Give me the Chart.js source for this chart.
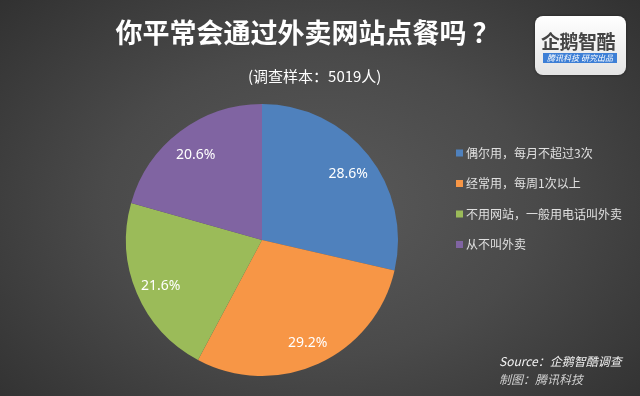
<!DOCTYPE html>
<html>
<head>
<meta charset="utf-8">
<script src="https://cdn.jsdelivr.net/npm/chart.js@4.4.1/dist/chart.umd.min.js"></script>
<style>
  html, body { margin: 0; padding: 0; }
  body {
    width: 640px; height: 396px; overflow: hidden; position: relative;
    background: radial-gradient(ellipse 75% 85% at 50% 52%, #5a5a5a 0%, #4a4a4a 45%, #2c2c2c 100%);
    font-family: "Noto Sans CJK SC", "Noto Sans", sans-serif;
  }
  #wrap { position: absolute; left: 0; top: 0; width: 640px; height: 396px; }
  .t { position: absolute; white-space: nowrap; }
  #title { left: 0; width: 615px; top: 14px; text-align: center; font-size: 27px; font-weight: bold; color: #fff; line-height: 36px; }
  #sub { left: 248px; top: 66px; font-size: 15px; color: #fff; line-height: 20px; }
  #logo { position: absolute; left: 535px; top: 16px; width: 91px; height: 59px; border-radius: 8px;
    background: linear-gradient(#ffffff, #e4e4e4); box-shadow: 0 0 3px rgba(0,0,0,0.4); }
  #logo .n { position: absolute; left: 6px; top: 14px; font-size: 19px; font-weight: bold; color: #444; letter-spacing: -0.5px; line-height: 22px; }
  #logo .b { position: absolute; left: 8px; top: 37px; width: 74px; height: 10px; background: #3d7fd6;
    color: #fff; font-size: 8px; line-height: 10px; font-style: italic; text-align: center; }
  #src1 { left: 499px; top: 353px; font-size: 12px; font-style: italic; color: #f0f0f0; line-height: 16px; }
  #src2 { left: 499px; top: 371px; font-size: 12px; font-style: italic; color: #cfcfcf; line-height: 16px; }
</style>
</head>
<body>
<div id="wrap"><canvas id="c" width="640" height="396"></canvas></div>
<div class="t" id="title">你平常会通过外卖网站点餐吗 ？</div>
<div class="t" id="sub">(调查样本：5019人)</div>
<div id="logo"><div class="n">企鹅智酷</div><div class="b">腾讯科技 研究出品</div></div>
<div class="t" id="src1">Source：企鹅智酷调查</div>
<div class="t" id="src2">制图：腾讯科技</div>
<script>
const categories = ["偶尔用，每月不超过3次", "经常用，每周1次以上", "不用网站，一般用电话叫外卖", "从不叫外卖"];
const values = [28.6, 29.2, 21.6, 20.6];
const colors = ["#4F81BD", "#F79646", "#9BBB59", "#8064A2"];

const labelPlugin = {
  id: 'labels',
  afterDatasetsDraw(chart) {
    const ctx = chart.ctx;
    const meta = chart.getDatasetMeta(0);
    ctx.save();
    ctx.font = '14px "Noto Sans", sans-serif';
    ctx.fillStyle = '#ffffff';
    ctx.textAlign = 'center';
    ctx.textBaseline = 'middle';
    meta.data.forEach((arc, i) => {
      const p = arc.getProps(['x', 'y', 'startAngle', 'endAngle', 'outerRadius'], true);
      const mid = (p.startAngle + p.endAngle) / 2;
      const r = p.outerRadius * 0.81;
      ctx.fillText(values[i].toFixed(1) + '%', p.x + Math.cos(mid) * r, p.y + Math.sin(mid) * r + 3);
    });
    ctx.restore();
  }
};

const legendPlugin = {
  id: 'customLegend',
  afterDraw(chart) {
    const ctx = chart.ctx;
    ctx.save();
    ctx.font = '12px "Noto Sans CJK SC", sans-serif';
    ctx.textBaseline = 'middle';
    categories.forEach((c, i) => {
      const y = 153 + i * 30.5;
      ctx.fillStyle = colors[i];
      ctx.fillRect(456, y - 3.5, 7, 7);
      ctx.fillStyle = '#e0e0e0';
      ctx.fillText(c, 466, y);
    });
    ctx.restore();
  }
};

new Chart(document.getElementById('c'), {
  type: 'pie',
  data: {
    labels: categories,
    datasets: [{ data: values, backgroundColor: colors, borderWidth: 0 }]
  },
  options: {
    responsive: false,
    animation: false,
    layout: { padding: { left: 126, right: 242, top: 104, bottom: 20 } },
    plugins: { legend: { display: false }, tooltip: { enabled: false } }
  },
  plugins: [labelPlugin, legendPlugin]
});
</script>
</body>
</html>
